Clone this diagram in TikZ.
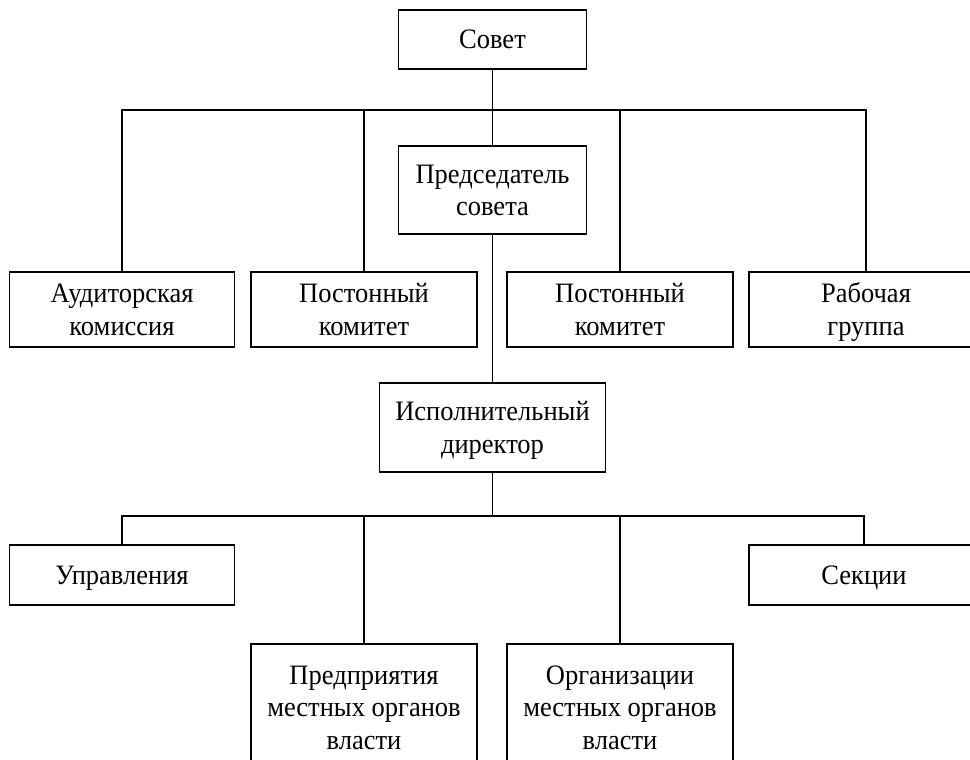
\documentclass[tikz,border=0pt]{standalone}
\usepackage{graphicx}
\usepackage{fontspec}
\setmainfont{Liberation Serif}
\newcommand\bxl[1]{\rule[-6.75pt]{0pt}{32.5pt}\scalebox{1}[1.06]{#1}}
\begin{document}
\begin{tikzpicture}[x=1pt,y=-1pt,
  box/.style={draw, line width=1.2pt, align=center, inner sep=0pt,
    font=\fontsize{26.5}{32.5}\selectfont},
  conn/.style={line width=1.2pt}]
\useasboundingbox (0,0) rectangle (970,760);
% top
\node[box, minimum width=188pt, minimum height=59pt] (sovet) at (492.5,39.5) {\bxl{Совет}};
\node[box, minimum width=188pt, minimum height=88pt] (pred) at (492.5,190) {\bxl{Председатель}\\\bxl{совета}};
% row 1
\node[box, minimum width=225pt, minimum height=75pt] (aud) at (122,309.5) {\bxl{Аудиторская}\\\bxl{комиссия}};
\node[box, minimum width=226pt, minimum height=75pt] (post1) at (364,309.5) {\bxl{Постонный}\\\bxl{комитет}};
\node[box, minimum width=226pt, minimum height=75pt] (post2) at (620,309.5) {\bxl{Постонный}\\\bxl{комитет}};
\node[box, minimum width=234pt, minimum height=75pt] (rab) at (866,309.5) {\bxl{Рабочая}\\\bxl{группа}};
% director
\node[box, minimum width=226pt, minimum height=89pt] (isp) at (492.5,427.5) {\bxl{Исполнительный}\\\bxl{директор}};
% row 2
\node[box, minimum width=225pt, minimum height=60pt] (upr) at (122,575) {\bxl{Управления}};
\node[box, minimum width=230pt, minimum height=60pt] (sek) at (864,575) {\bxl{Секции}};
% row 3
\node[box, minimum width=226pt, minimum height=126pt] (predpr) at (364,707) {\bxl{Предприятия}\\\bxl{местных органов}\\\bxl{власти}};
\node[box, minimum width=226pt, minimum height=126pt] (org) at (620,707) {\bxl{Организации}\\\bxl{местных органов}\\\bxl{власти}};
% buses
\coordinate (bus1) at (492.5,110);
\coordinate (bus2) at (492.5,516);
% connectors
\draw[conn] (sovet.south) -- (pred.north);
\draw[conn] (aud.north) |- (rab.north |- bus1) -- (rab.north);
\draw[conn] (post1.north) -- (post1.north |- bus1);
\draw[conn] (post2.north) -- (post2.north |- bus1);
\draw[conn] (pred.south) -- (isp.north);
\draw[conn] (isp.south) -- (bus2);
\draw[conn] (upr.north) |- (sek.north |- bus2) -- (sek.north);
\draw[conn] (predpr.north) -- (predpr.north |- bus2);
\draw[conn] (org.north) -- (org.north |- bus2);
\end{tikzpicture}
\end{document}
